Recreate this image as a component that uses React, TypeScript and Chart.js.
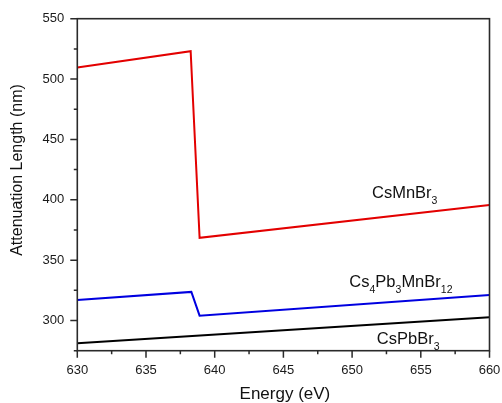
import React, { useEffect, useRef } from "react";
import { Chart, registerables } from "chart.js";

Chart.register(...registerables);

// Attenuation length vs photon energy around the Mn L-edge
const csMnBr3Energy = [630, 638.25, 638.9, 660];
const csMnBr3Length = [509.5, 523.1, 368.5, 395.6];

const cs4Pb3MnBr12Energy = [630, 638.3, 638.9, 660];
const cs4Pb3MnBr12Length = [317, 323.7, 304, 321.2];

const csPbBr3Energy = [630, 660];
const csPbBr3Length = [281.2, 302.8];

const xMin = 630;
const xMax = 660;
const yMin = 275;
const yMax = 550;

const FONT = "'Liberation Sans', Arial, sans-serif";
const FRAME = "#2a2a2a";

type Part = { t: string; sub?: boolean };

// series name labels, anchored in data coordinates (x = start, y = baseline)
const seriesLabels: { parts: Part[]; x: number; y: number }[] = [
  { parts: [{ t: "CsMnBr" }, { t: "3", sub: true }], x: 651.45, y: 401.7 },
  {
    parts: [
      { t: "Cs" },
      { t: "4", sub: true },
      { t: "Pb" },
      { t: "3", sub: true },
      { t: "MnBr" },
      { t: "12", sub: true },
    ],
    x: 649.8,
    y: 328.1,
  },
  { parts: [{ t: "CsPbBr" }, { t: "3", sub: true }], x: 651.8, y: 280.8 },
];

const toPoints = (xs: number[], ys: number[]) => xs.map((x, i) => ({ x, y: ys[i] }));

const framePlugin = {
  id: "frameAndTicks",
  afterDraw(chart: any) {
    const { ctx, chartArea: a, scales } = chart;
    const x = scales.x;
    const y = scales.y;
    ctx.save();
    ctx.strokeStyle = FRAME;
    ctx.lineWidth = 1.6;
    ctx.strokeRect(a.left, a.top, a.right - a.left, a.bottom - a.top);

    ctx.lineWidth = 1.5;
    ctx.beginPath();
    for (let v = xMin; v <= xMax + 1e-9; v += 2.5) {
      const px = x.getPixelForValue(v);
      const major = Math.abs(v / 5 - Math.round(v / 5)) < 1e-6;
      ctx.moveTo(px, a.bottom);
      ctx.lineTo(px, a.bottom + (major ? 7 : 3.5));
    }
    for (let v = yMin; v <= yMax + 1e-9; v += 25) {
      const py = y.getPixelForValue(v);
      const major = Math.abs(v / 50 - Math.round(v / 50)) < 1e-6;
      ctx.moveTo(a.left, py);
      ctx.lineTo(a.left - (major ? 7 : 3.5), py);
    }
    ctx.stroke();

    // axis titles
    ctx.fillStyle = "#111";
    ctx.font = `17px ${FONT}`;
    ctx.textAlign = "center";
    ctx.textBaseline = "alphabetic";
    ctx.fillText("Energy (eV)", (a.left + a.right) / 2 + 1.5, 398.5);

    ctx.save();
    ctx.translate(18, 170);
    ctx.rotate(-Math.PI / 2);
    ctx.font = `16px ${FONT}`;
    ctx.textBaseline = "middle";
    ctx.fillText("Attenuation Length (nm)", 0, 0);
    ctx.restore();

    // series labels with subscripts
    ctx.textAlign = "left";
    ctx.textBaseline = "alphabetic";
    for (const lab of seriesLabels) {
      let px = x.getPixelForValue(lab.x);
      const base = y.getPixelForValue(lab.y);
      for (const p of lab.parts) {
        ctx.font = p.sub ? `10.5px ${FONT}` : `16.5px ${FONT}`;
        const dy = p.sub ? 6.5 : 0;
        ctx.fillText(p.t, px, base + dy);
        px += ctx.measureText(p.t).width;
      }
    }
    ctx.restore();
  },
};

export default function App() {
  const canvasRef = useRef<HTMLCanvasElement | null>(null);

  useEffect(() => {
    document.body.style.margin = "0";
    const canvas = canvasRef.current;
    if (!canvas) return;
    const chart = new Chart(canvas, {
      type: "line",
      data: {
        datasets: [
          {
            label: "CsMnBr3",
            data: toPoints(csMnBr3Energy, csMnBr3Length),
            borderColor: "#e30000",
            borderWidth: 2,
            pointRadius: 0,
            tension: 0,
            fill: false,
          },
          {
            label: "Cs4Pb3MnBr12",
            data: toPoints(cs4Pb3MnBr12Energy, cs4Pb3MnBr12Length),
            borderColor: "#0000e0",
            borderWidth: 2,
            pointRadius: 0,
            tension: 0,
            fill: false,
          },
          {
            label: "CsPbBr3",
            data: toPoints(csPbBr3Energy, csPbBr3Length),
            borderColor: "#000000",
            borderWidth: 2,
            pointRadius: 0,
            tension: 0,
            fill: false,
          },
        ],
      },
      options: {
        responsive: false,
        animation: false,
        devicePixelRatio: 1,
        layout: { padding: { top: 18.7, right: 12.5, left: 0, bottom: 0 } },
        plugins: {
          legend: { display: false },
          tooltip: { enabled: false },
        },
        scales: {
          x: {
            type: "linear",
            min: xMin,
            max: xMax,
            grid: { display: false, drawTicks: false },
            border: { display: false },
            ticks: {
              stepSize: 5,
              padding: 12,
              color: "#1a1a1a",
              font: { family: FONT, size: 13 },
              maxRotation: 0,
            },
            afterFit: (s: any) => {
              s.height = 52.3;
              s.paddingLeft = 0;
              s.paddingRight = 0;
            },
          },
          y: {
            type: "linear",
            min: yMin,
            max: yMax,
            grid: { display: false, drawTicks: false },
            border: { display: false },
            ticks: {
              stepSize: 50,
              padding: 13,
              color: "#1a1a1a",
              font: { family: FONT, size: 13 },
              callback: (v: any) => (Number(v) % 50 === 0 ? String(v) : ""),
            },
            afterFit: (s: any) => {
              s.width = 77.3;
              s.paddingTop = 0;
              s.paddingBottom = 0;
            },
          },
        },
      },
      plugins: [framePlugin],
    });
    return () => chart.destroy();
  }, []);

  return (
    <div style={{ width: 502, height: 403, background: "#fff" }}>
      <canvas ref={canvasRef} width={502} height={403} />
    </div>
  );
}
